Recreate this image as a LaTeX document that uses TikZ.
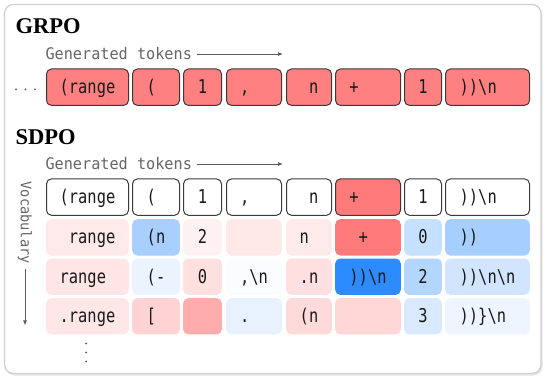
\documentclass[tikz,border=0pt]{standalone}
\usepackage{fontspec}
\usetikzlibrary{arrows.meta}
\newfontfamily\tokfont[FakeStretch=0.81]{DejaVu Sans Mono}
\newfontfamily\labfont[FakeStretch=0.95]{DejaVu Sans Mono}
\newfontfamily\vocfont[FakeStretch=0.94]{DejaVu Sans Mono}
\newfontfamily\ttlfont{Liberation Serif}
\newcommand\tsp{\hphantom{0}}
\newcommand\bsl{\textbackslash}
\definecolor{tokink}{HTML}{1A1A1A}
\definecolor{edgec}{HTML}{3A3A3A}
\definecolor{labc}{HTML}{666666}
\definecolor{grpored}{HTML}{FF8080}
\definecolor{hotred}{HTML}{FF7A7A}
\definecolor{frame}{HTML}{CFCFCF}
\definecolor{u1}{HTML}{FFE9E9}\definecolor{u2}{HTML}{A8CFFF}\definecolor{u3}{HTML}{FFF1F1}\definecolor{u4}{HTML}{FFE8E8}
\definecolor{u5}{HTML}{FFEAEA}\definecolor{u6}{HTML}{FF7A7A}\definecolor{u7}{HTML}{C6E0FF}\definecolor{u8}{HTML}{A6CEFF}
\definecolor{v1}{HTML}{FFE5E5}\definecolor{v2}{HTML}{EAF3FF}\definecolor{v3}{HTML}{FFE0E0}\definecolor{v4}{HTML}{FBFCFF}
\definecolor{v5}{HTML}{FFDFDF}\definecolor{v6}{HTML}{2B8BFF}\definecolor{v7}{HTML}{B3D6FF}\definecolor{v8}{HTML}{D1E5FF}
\definecolor{w1}{HTML}{FFE7E7}\definecolor{w2}{HTML}{FFD3D3}\definecolor{w3}{HTML}{FFACAC}\definecolor{w4}{HTML}{E7F1FF}
\definecolor{w5}{HTML}{FFDADA}\definecolor{w6}{HTML}{FFD7D7}\definecolor{w7}{HTML}{D9E9FF}\definecolor{w8}{HTML}{EEF5FF}
\tikzset{
  tok/.style={rounded corners=5pt, inner sep=0pt, font=\tokfont\fontsize{19}{22}\selectfont,
    text=tokink, text height=12.8pt, text depth=0pt, minimum height=36.7pt-\pgflinewidth},
  bcell/.style={tok, draw=edgec, line width=1pt, minimum height=37.4pt-\pgflinewidth},
  gcell/.style={bcell, fill=grpored},
  scell/.style={bcell, fill=white},
  vcell/.style={tok, fill=#1},
  colA/.style={minimum width=83pt-\pgflinewidth},
  colB/.style={minimum width=48pt-\pgflinewidth},
  colC/.style={minimum width=39pt-\pgflinewidth},
  colD/.style={minimum width=56pt-\pgflinewidth},
  colE/.style={minimum width=46pt-\pgflinewidth},
  colF/.style={minimum width=66pt-\pgflinewidth},
  colG/.style={minimum width=38pt-\pgflinewidth},
  colH/.style={minimum width=85pt-\pgflinewidth},
  ttl/.style={font=\ttlfont\bfseries\fontsize{22.5}{26}\selectfont, inner sep=0pt, anchor=base west},
  lab/.style={font=\labfont\fontsize{16}{19}\selectfont, text=labc, inner sep=0pt, anchor=base west},
  voc/.style={font=\vocfont\fontsize{14.5}{17}\selectfont, text=labc, inner sep=0pt},
  tokarrow/.style={draw=labc!90!black, line width=0.9pt, -{Latex[length=5pt,width=4pt]}},
  dotc/.style={fill=labc!80!black}
}
\begin{document}
\begin{tikzpicture}[x=1pt,y=-1pt]
\useasboundingbox (0,0) rectangle (549,379);
\fill[white] (0,0) rectangle (549,379);
% frame
\fill[black!10, rounded corners=9pt] (5.5,6) rectangle (542.5,375.5);
\draw[frame, fill=white, line width=1.2pt, rounded corners=9pt] (4.5,4.5) rectangle (541,373.5);

% ---------- GRPO ----------
\node[ttl] (grpo) at (15.5,33.3) {GRPO};
\node[lab] (glab) at (45.3,60) {Generated tokens};
\coordinate (gend) at (283,53.3);
\draw[tokarrow, shorten <=4.5pt] (glab.east) -- (glab.east -| gend);

\fill[dotc] (16,89.3) circle (1pt) (25.5,89.3) circle (1pt) (35,89.3) circle (1pt);

\node[gcell, colA] (g1) at (87.5,87.2) {(range};
\node[gcell, colB] (g2) at (156,87.2) {(\tsp};
\node[gcell, colC] (g3) at (202.5,87.2) {1};
\node[gcell, colD] (g4) at (254,87.2) {,\tsp\tsp};
\node[gcell, colE] (g5) at (309,87.2) {\tsp n};
\node[gcell, colF] (g6) at (368,87.2) {+\tsp\tsp\tsp};
\node[gcell, colG] (g7) at (423,87.2) {1};
\node[gcell, colH] (g8) at (487.5,87.2) {))\bsl n\tsp\tsp};

% ---------- SDPO ----------
\node[ttl] (sdpo) at (15.5,145) {SDPO};
\node[lab] (slab) at (45.3,170) {Generated tokens};
\coordinate (send) at (283,163.3);
\draw[tokarrow, shorten <=4.5pt] (slab.east) -- (slab.east -| send);

\node[voc, rotate=-90, anchor=west] (vocab) at (25,181.5) {Vocabulary};
\coordinate (vend) at (25,325.5);
\draw[tokarrow, shorten <=5pt] (vocab.east) -- (vocab.east |- vend);

% generated row
\node[scell, colA] (t1) at (87.5,197.1) {(range};
\node[scell, colB] (t2) at (156,197.1) {(\tsp};
\node[scell, colC] (t3) at (202.5,197.1) {1};
\node[scell, colD] (t4) at (254,197.1) {,\tsp\tsp};
\node[scell, colE] (t5) at (309,197.1) {\tsp n};
\node[bcell, fill=hotred, colF] (t6) at (368,197.1) {+\tsp\tsp\tsp};
\node[scell, colG] (t7) at (423,197.1) {1};
\node[scell, colH] (t8) at (487.5,197.1) {))\bsl n\tsp\tsp};

% vocabulary row 1
\node[vcell=u1, colA] (u1) at (87.5,237.4) {\tsp range};
\node[vcell=u2, colB] (u2) at (156,237.4) {(n};
\node[vcell=u3, colC] (u3) at (202.5,237.4) {2};
\node[vcell=u4, colD] (u4) at (254,237.4) {};
\node[vcell=u5, colE] (u5) at (309,237.4) {n\tsp};
\node[vcell=u6, colF] (u6) at (368,237.4) {+\tsp};
\node[vcell=u7, colG] (u7) at (423,237.4) {0};
\node[vcell=u8, colH] (u8) at (487.5,237.4) {))\tsp\tsp\tsp\tsp};

% vocabulary row 2
\node[vcell=v1, colA] (v1) at (87.5,276.7) {range\tsp};
\node[vcell=v2, colB] (v2) at (156,276.7) {(-};
\node[vcell=v3, colC] (v3) at (202.5,276.7) {0};
\node[vcell=v4, colD] (v4) at (254,276.7) {,\bsl n};
\node[vcell=v5, colE] (v5) at (309,276.7) {.n};
\node[vcell=v6, colF] (v6) at (368,276.7) {))\bsl n};
\node[vcell=v7, colG] (v7) at (423,276.7) {2};
\node[vcell=v8, colH] (v8) at (487.5,276.7) {))\bsl n\bsl n};

% vocabulary row 3
\node[vcell=w1, colA] (w1) at (87.5,316.3) {.range};
\node[vcell=w2, colB] (w2) at (156,316.3) {[\tsp};
\node[vcell=w3, colC] (w3) at (202.5,316.3) {};
\node[vcell=w4, colD] (w4) at (254,316.3) {.\tsp\tsp};
\node[vcell=w5, colE] (w5) at (309,316.3) {(n};
\node[vcell=w6, colF] (w6) at (368,316.3) {};
\node[vcell=w7, colG] (w7) at (423,316.3) {3};
\node[vcell=w8, colH] (w8) at (487.5,316.3) {))\}\bsl n\tsp};

\fill[dotc] (86,343.5) circle (1pt) (86,352.5) circle (1pt) (86,361.5) circle (1pt);
\end{tikzpicture}
\end{document}
